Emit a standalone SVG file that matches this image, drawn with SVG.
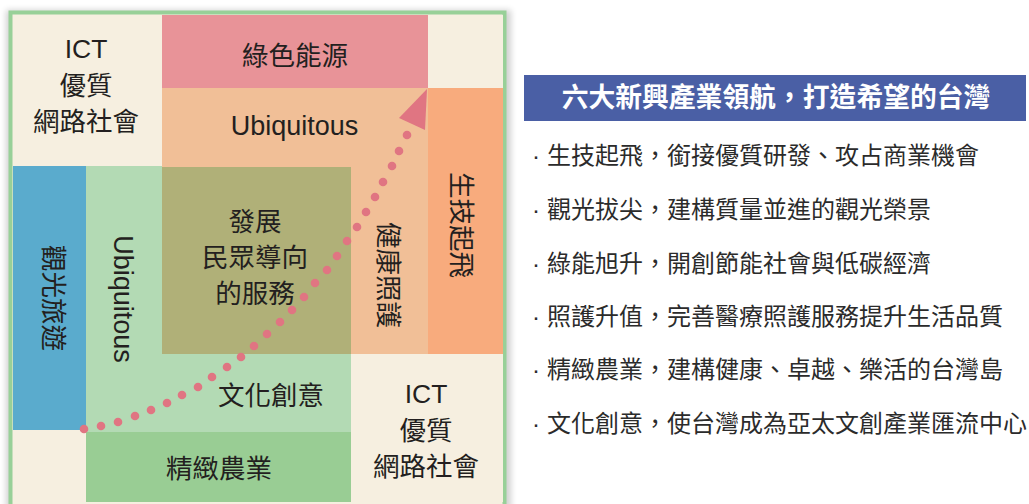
<svg xmlns="http://www.w3.org/2000/svg" width="1029" height="504" viewBox="0 0 1029 504">
<defs>
<filter id="shadow" x="-5%" y="-5%" width="110%" height="110%">
<feGaussianBlur stdDeviation="3"/>
</filter>
</defs>
<style>
.cream{fill:#f6efe0}
.pink{fill:#e89398}
.peach{fill:#f1bf97}
.orange{fill:#f8ab7d}
.blue{fill:#5aabcd}
.lgreen{fill:#b3dab4}
.olive{fill:#b0b078}
.green{fill:#99cd94}
.dot{fill:#e07582}
.t{font-family:"Liberation Sans","Noto Sans CJK TC",sans-serif;font-size:26.5px;fill:#231f20;text-anchor:middle}
.b{font-family:"Liberation Sans","Noto Sans CJK TC",sans-serif;font-size:24px;fill:#2b2b2b}
.h{font-family:"Liberation Sans","Noto Sans CJK TC",sans-serif;font-size:26.8px;font-weight:bold;fill:#ffffff;text-anchor:middle}
</style>
<rect width="1029" height="504" fill="#ffffff"/>
<rect x="6" y="10" width="505" height="500" fill="#000000" opacity="0.18" filter="url(#shadow)"/>
<rect x="10.5" y="12.5" width="494" height="494" fill="#f6efe0" stroke="#98d098" stroke-width="4"/>

<g id="ict-top">
<rect class="cream" x="13" y="15" width="149" height="151"/>
<text class="t" x="86" y="58">ICT</text>
<text class="t" x="86" y="95">優質</text>
<text class="t" x="86" y="131">網路社會</text>
</g>
<g id="green-energy">
<rect class="pink" x="162" y="15" width="266" height="73"/>
<text class="t" x="295" y="65">綠色能源</text>
</g>
<g id="corner-top-right">
<rect class="cream" x="428" y="15" width="75" height="73"/>
</g>
<g id="ubiquitous-top">
<rect class="peach" x="162" y="88" width="266" height="79"/>
<text class="t" x="294.5" y="135" style="font-size:27px">Ubiquitous</text>
</g>
<g id="biotech">
<rect class="orange" x="428" y="88" width="75" height="266"/>
<text class="t" transform="translate(452,225) rotate(90)" x="0" y="0">生技起飛</text>
</g>
<g id="healthcare">
<rect class="peach" x="351" y="167" width="77" height="187"/>
<text class="t" transform="translate(379,275) rotate(90)" x="0" y="0">健康照護</text>
</g>
<g id="tourism">
<rect class="blue" x="13" y="166" width="73" height="264"/>
<text class="t" transform="translate(44,298) rotate(90)" x="0" y="0">觀光旅遊</text>
</g>
<g id="ubiquitous-left">
<rect class="lgreen" x="86" y="166" width="76" height="266"/>
<text class="t" transform="translate(114,299) rotate(90)" x="0" y="0" style="font-size:27px">Ubiquitous</text>
</g>
<g id="service-center">
<rect class="olive" x="162" y="167" width="189" height="187"/>
<text class="t" x="255" y="231">發展</text>
<text class="t" x="255" y="267">民眾導向</text>
<text class="t" x="255" y="303">的服務</text>
</g>
<g id="culture">
<rect class="lgreen" x="162" y="354" width="189" height="78"/>
<text class="t" x="271" y="405">文化創意</text>
</g>
<g id="corner-bottom-left">
<rect class="cream" x="13" y="430" width="73" height="72"/>
</g>
<g id="agriculture">
<rect class="green" x="86" y="432" width="265" height="70"/>
<text class="t" x="219" y="478">精緻農業</text>
</g>
<g id="ict-bottom">
<rect class="cream" x="351" y="354" width="152" height="148"/>
<text class="t" x="426" y="403">ICT</text>
<text class="t" x="426" y="440">優質</text>
<text class="t" x="426" y="476">網路社會</text>
</g>

<g id="connectors">
<circle class="dot" cx="84" cy="429" r="4.3"/>
<circle class="dot" cx="101" cy="426" r="4.3"/>
<circle class="dot" cx="118" cy="422" r="4.3"/>
<circle class="dot" cx="135" cy="416" r="4.3"/>
<circle class="dot" cx="151" cy="410" r="4.3"/>
<circle class="dot" cx="167" cy="403" r="4.3"/>
<circle class="dot" cx="182" cy="395" r="4.3"/>
<circle class="dot" cx="198" cy="387" r="4.3"/>
<circle class="dot" cx="212" cy="377" r="4.3"/>
<circle class="dot" cx="227" cy="367" r="4.3"/>
<circle class="dot" cx="241" cy="357" r="4.3"/>
<circle class="dot" cx="254" cy="346" r="4.3"/>
<circle class="dot" cx="267" cy="334" r="4.3"/>
<circle class="dot" cx="280" cy="322" r="4.3"/>
<circle class="dot" cx="292" cy="310" r="4.3"/>
<circle class="dot" cx="304" cy="297" r="4.3"/>
<circle class="dot" cx="315" cy="283" r="4.3"/>
<circle class="dot" cx="327" cy="270" r="4.3"/>
<circle class="dot" cx="337" cy="256" r="4.3"/>
<circle class="dot" cx="347" cy="241" r="4.3"/>
<circle class="dot" cx="357" cy="227" r="4.3"/>
<circle class="dot" cx="366" cy="212" r="4.3"/>
<circle class="dot" cx="375" cy="197" r="4.3"/>
<circle class="dot" cx="383" cy="182" r="4.3"/>
<circle class="dot" cx="392" cy="166" r="4.3"/>
<circle class="dot" cx="399" cy="151" r="4.3"/>
<circle class="dot" cx="407" cy="135" r="4.3"/>
<polygon class="dot" points="427,89 399,118 425,130"/>
</g>

<g id="header">
<rect x="524" y="75" width="502" height="46" fill="#4a5fa5"/>
<text class="h" x="776" y="107">六大新興產業領航，打造希望的台灣</text>
</g>
<g id="bullets">
<text class="b" y="164"><tspan x="532">·</tspan><tspan x="547">生技起飛，銜接優質研發、攻占商業機會</tspan></text>
<text class="b" y="218"><tspan x="532">·</tspan><tspan x="547">觀光拔尖，建構質量並進的觀光榮景</tspan></text>
<text class="b" y="272"><tspan x="532">·</tspan><tspan x="547">綠能旭升，開創節能社會與低碳經濟</tspan></text>
<text class="b" y="325"><tspan x="532">·</tspan><tspan x="547">照護升值，完善醫療照護服務提升生活品質</tspan></text>
<text class="b" y="378"><tspan x="532">·</tspan><tspan x="547">精緻農業，建構健康、卓越、樂活的台灣島</tspan></text>
<text class="b" y="432"><tspan x="532">·</tspan><tspan x="547">文化創意，使台灣成為亞太文創產業匯流中心</tspan></text>
</g>
</svg>
